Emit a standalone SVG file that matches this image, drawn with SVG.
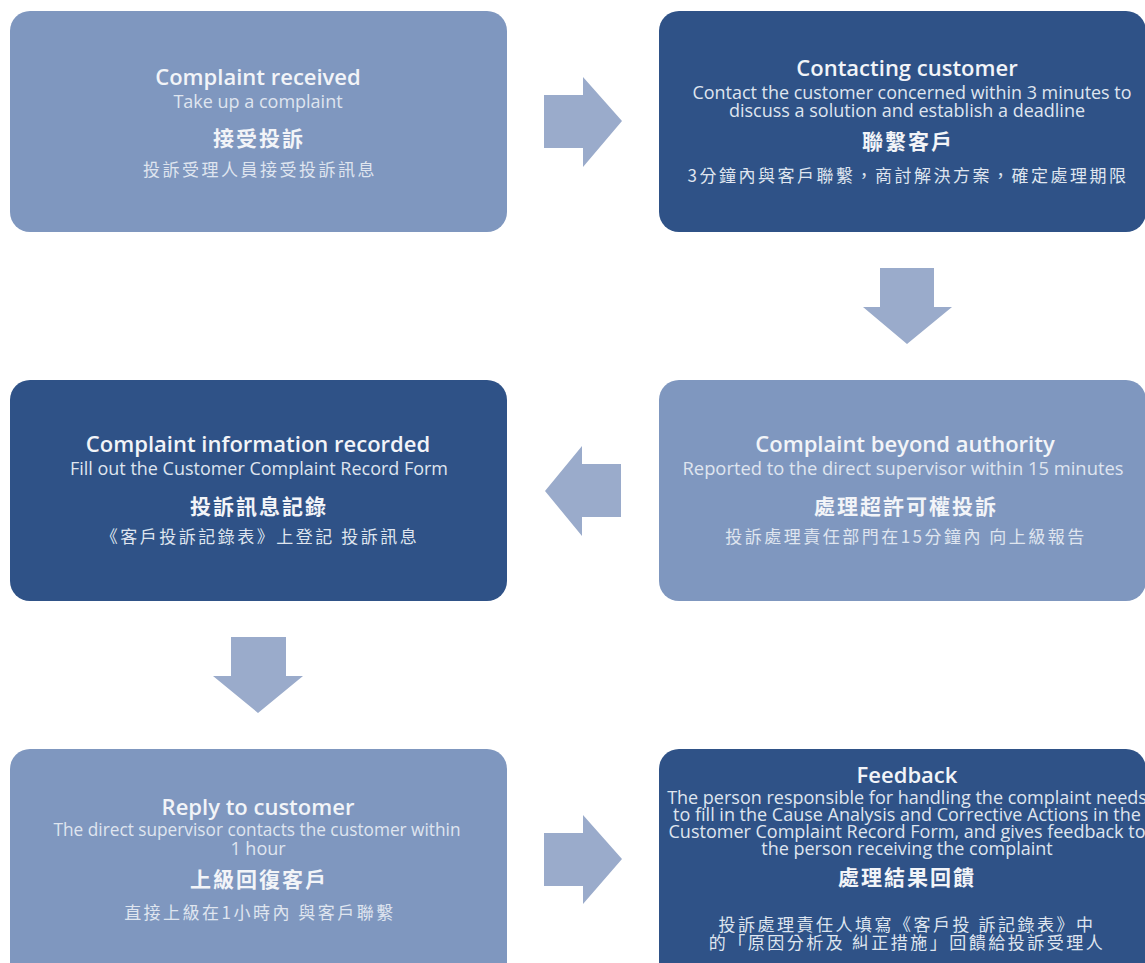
<svg xmlns="http://www.w3.org/2000/svg" width="1145" height="963" viewBox="0 0 1145 963">
<style>
.light{fill:#7f97bf}
.dark{fill:#2f5287}
.arrow{fill:#9aabcb}
text{font-family:"Open Sans","Noto Sans CJK TC",sans-serif;text-anchor:middle}
.t{font-size:22px;font-weight:600;fill:#f2f4f8}
.s{font-size:18px;font-weight:400;fill:#dfe5ef}
.ct{font-family:"Noto Sans CJK TC",sans-serif;font-size:21px;font-weight:700;fill:#f2f4f8;letter-spacing:2px}
.cs{font-family:"Noto Sans CJK TC",sans-serif;font-size:17px;font-weight:400;fill:#dfe5ef;letter-spacing:2.5px}
</style>
<rect width="1145" height="963" fill="#ffffff"/>
<g id="connectors">
<polygon class="arrow" points="544,95 583,95 583,77 622,121 583,167 583,148 544,148"/>
<polygon class="arrow" points="880,268 934,268 934,307 952,307 907,344 863,307 880,307"/>
<polygon class="arrow" points="621,464 582,464 582,446 545,491 582,536 582,517 621,517"/>
<polygon class="arrow" points="231,637 286,637 286,676 303,676 258,713 213,676 231,676"/>
<polygon class="arrow" points="544,833 583,833 583,815 622,859 583,904 583,886 544,886"/>
</g>
<g id="node-received">
<rect class="light" x="10" y="11" width="497" height="221" rx="20"/>
<text class="t" x="258" y="85">Complaint received</text>
<text class="s" x="258" y="108">Take up a complaint</text>
<text class="ct" x="259" y="146">接受投訴</text>
<text class="cs" x="260" y="176">投訴受理人員接受投訴訊息</text>
</g>
<g id="node-contacting">
<rect class="dark" x="659" y="11" width="487" height="221" rx="20"/>
<text class="t" x="907" y="76">Contacting customer</text>
<text class="s" x="912" y="99" textLength="439" lengthAdjust="spacingAndGlyphs">Contact the customer concerned within 3 minutes to</text>
<text class="s" x="907" y="117">discuss a solution and establish a deadline</text>
<text class="ct" x="908" y="149">聯繫客戶</text>
<text class="cs" x="908" y="182">3分鐘內與客戶聯繫，商討解決方案，確定處理期限</text>
</g>
<g id="node-recorded">
<rect class="dark" x="10" y="380" width="497" height="221" rx="20"/>
<text class="t" x="258" y="452">Complaint information recorded</text>
<text class="s" x="259" y="475" textLength="378" lengthAdjust="spacingAndGlyphs">Fill out the Customer Complaint Record Form</text>
<text class="ct" x="259" y="514">投訴訊息記錄</text>
<text class="cs" x="260" y="543">《客戶投訴記錄表》上登記 投訴訊息</text>
</g>
<g id="node-beyond">
<rect class="light" x="659" y="380" width="487" height="221" rx="20"/>
<text class="t" x="905" y="452">Complaint beyond authority</text>
<text class="s" x="903" y="475" textLength="441" lengthAdjust="spacingAndGlyphs">Reported to the direct supervisor within 15 minutes</text>
<text class="ct" x="906" y="514">處理超許可權投訴</text>
<text class="cs" x="906" y="543">投訴處理責任部門在15分鐘內 向上級報告</text>
</g>
<g id="node-reply">
<rect class="light" x="10" y="749" width="497" height="240" rx="20"/>
<text class="t" x="258" y="815">Reply to customer</text>
<text class="s" x="257" y="836" textLength="407" lengthAdjust="spacingAndGlyphs">The direct supervisor contacts the customer within</text>
<text class="s" x="258" y="855">1 hour</text>
<text class="ct" x="259" y="887">上級回復客戶</text>
<text class="cs" x="260" y="919">直接上級在1小時內 與客戶聯繫</text>
</g>
<g id="node-feedback">
<rect class="dark" x="659" y="749" width="487" height="240" rx="20"/>
<text class="t" x="907" y="783">Feedback</text>
<text class="s" x="907" y="804">The person responsible for handling the complaint needs</text>
<text class="s" x="907" y="821">to fill in the Cause Analysis and Corrective Actions in the</text>
<text class="s" x="907" y="838">Customer Complaint Record Form, and gives feedback to</text>
<text class="s" x="907" y="855">the person receiving the complaint</text>
<text class="ct" x="907" y="885">處理結果回饋</text>
<text class="cs" x="907" y="931">投訴處理責任人填寫《客戶投 訴記錄表》中</text>
<text class="cs" x="907" y="949">的「原因分析及 糾正措施」回饋給投訴受理人</text>
</g>
</svg>
